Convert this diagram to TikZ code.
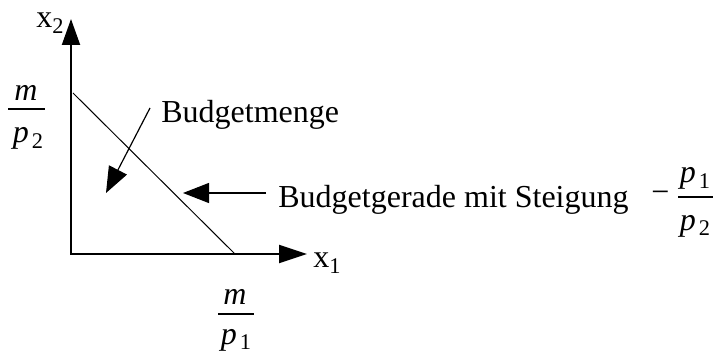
\documentclass[tikz,border=0pt]{standalone}
\usepackage{fontspec}
\setmainfont{Liberation Serif}[ItalicFont={Liberation Serif Italic}]
\usetikzlibrary{arrows.meta}
\begin{document}
\begin{tikzpicture}[x=0.5pt,y=-0.5pt,
  axis/.style={line width=1pt},
  ptr/.style={line width=0.6pt,-{Triangle[length=13pt,width=10pt]}},
  lbl/.style={inner sep=0pt,font=\fontsize{16}{19}\selectfont},
  fracbar/.style={line width=1.1pt}]
\useasboundingbox (0,0) rectangle (713,353);
% axes
\coordinate (O) at (71,254);
\coordinate (Ytip) at (71,19);
\coordinate (Xtip) at (307,254);
\draw[axis,{Triangle[length=13pt,width=9pt]}-{Triangle[length=14pt,width=9pt]}] (Ytip) -- (O) -- (Xtip);
% budget line
\coordinate (A) at (73,93);
\coordinate (B) at (235,254);
\draw[line width=0.5pt] (A) -- (B);
% axis labels
\node[lbl,anchor=base west] (x2) at (36,28) {x\textsubscript{2}};
\node[lbl,anchor=base west] (x1) at (313,268) {x\textsubscript{1}};
% m/p2
\node[lbl,anchor=base] (m2) at (26,101) {\textit{m}};
\node[lbl,anchor=base] (p2) at (28.5,143) {\textit{p}\kern1.5pt\textsubscript{2}};
\coordinate (b2l) at (8,109);
\coordinate (b2r) at (45,109);
\draw[fracbar] (b2l) -- (b2r);
% m/p1
\node[lbl,anchor=base] (m1) at (235,304) {\textit{m}};
\node[lbl,anchor=base] (p1) at (236.5,344) {\textit{p}\kern1.5pt\textsubscript{1}};
\coordinate (b1l) at (218,314);
\coordinate (b1r) at (254,314);
\draw[fracbar] (b1l) -- (b1r);
% Budgetmenge
\node[lbl,anchor=base west] (bm) at (161,122.5) {Budgetmenge};
\coordinate (bms) at (150,108);
\coordinate (bmt) at (106,193);
\draw[ptr] (bms) -- (bmt);
% Budgetgerade
\node[lbl,anchor=base west] (bg) at (278,207) {Budgetgerade mit Steigung};
\coordinate (bgs) at (266,193);
\coordinate (bgt) at (183,193);
\draw[ptr] (bgs) -- (bgt);
% slope fraction
\node[lbl] (minus) at (660.5,197) {−};
\node[lbl,anchor=base] (sp1) at (695.5,183) {\textit{p}\kern1.5pt\textsubscript{1}};
\node[lbl,anchor=base] (sp2) at (695.5,230) {\textit{p}\kern1.5pt\textsubscript{2}};
\coordinate (sbl) at (678,197);
\coordinate (sbr) at (713,197);
\draw[fracbar] (sbl) -- (sbr);
\end{tikzpicture}
\end{document}
